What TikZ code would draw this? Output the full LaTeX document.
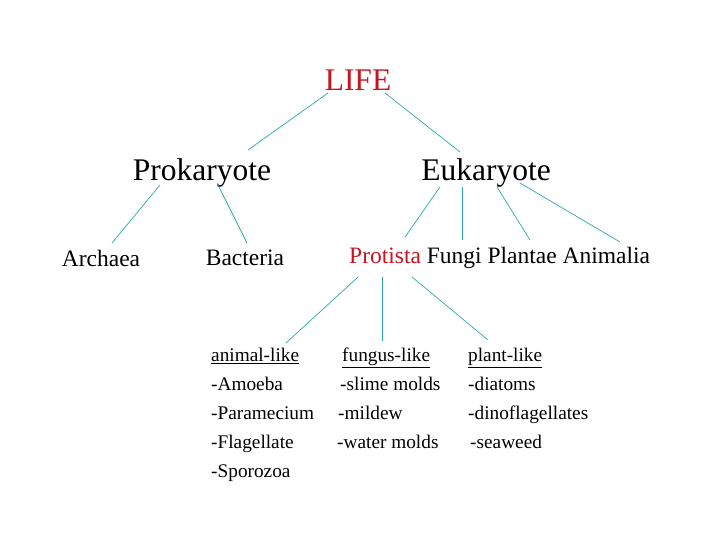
\documentclass[tikz,border=0pt]{standalone}
\usepackage{fontspec}
\setmainfont{Liberation Serif}
\definecolor{tred}{RGB}{200,20,30}
\definecolor{teal2}{RGB}{40,170,170}
\begin{document}
\begin{tikzpicture}[x=1pt,y=-1pt,
  ln/.style={teal2,line width=0.7pt},
  big/.style={font=\fontsize{31.5}{33}\selectfont,inner sep=0},
  mid/.style={font=\fontsize{23.5}{26}\selectfont,inner sep=0},
  lst/.style={font=\fontsize{19.3}{29}\selectfont,inner sep=0,anchor=north west,align=left}]
\useasboundingbox (0,0) rectangle (720,540);
\node[big,tred] (life) at (358,80) {LIFE};
\node[big] (pro) at (202,173) {Prokaryote};
\node[big] (euk) at (486,173) {Eukaryote};
\node[mid] (arc) at (101,258) {Archaea};
\node[mid] (bac) at (245,258) {Bacteria};
\node[mid,anchor=west] (row) at (349,258) {\textcolor{tred}{Protista} Fungi Plantae Animalia};
\node[lst] (an) at (211,348) {\underline{animal-like}\\-Amoeba\\-Paramecium\\-Flagellate\\-Sporozoa};
\node[lst] (fu) at (337,348) {\hspace*{5pt}\underline{fungus-like}\\\hspace*{3pt}-slime molds\\\hspace*{1pt}-mildew\\-water molds};
\node[lst] (pl) at (468,348) {\underline{plant-like}\\-diatoms\\-dinoflagellates\\\hspace*{2pt}-seaweed};
\coordinate (l1) at (328,93); \coordinate (l2) at (248,150);
\coordinate (l3) at (385,93); \coordinate (l4) at (460,152);
\draw[ln] (l1)--(l2); \draw[ln] (l3)--(l4);
\coordinate (p1) at (160,185); \coordinate (p2) at (112,243);
\coordinate (p3) at (218,185); \coordinate (p4) at (247,243);
\draw[ln] (p1)--(p2); \draw[ln] (p3)--(p4);
\coordinate (e1) at (440,187); \coordinate (e2) at (405,237);
\coordinate (e3) at (462,187); \coordinate (e4) at (462,240);
\coordinate (e5) at (497,187); \coordinate (e6) at (530,240);
\coordinate (e7) at (520,183); \coordinate (e8) at (620,242);
\draw[ln] (e1)--(e2); \draw[ln] (e3)--(e4); \draw[ln] (e5)--(e6); \draw[ln] (e7)--(e8);
\coordinate (r1) at (358,277); \coordinate (r2) at (286,343);
\coordinate (r3) at (382,277); \coordinate (r4) at (382,341);
\coordinate (r5) at (412,277); \coordinate (r6) at (488,340);
\draw[ln] (r1)--(r2); \draw[ln] (r3)--(r4); \draw[ln] (r5)--(r6);
\end{tikzpicture}
\end{document}
